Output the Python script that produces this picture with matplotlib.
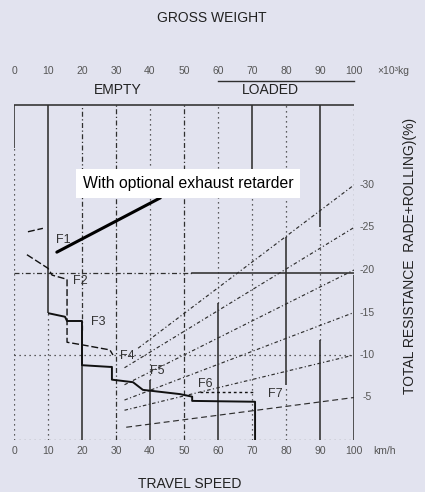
import matplotlib.pyplot as plt

plt.rcParams['font.family'] = ['Liberation Sans', 'DejaVu Sans']

# scales (speed and gross weight share the horizontal scale)
speed_ticks = [0, 10, 20, 30, 40, 50, 60, 70, 80, 90, 100]
weight_ticks = [0, 10, 20, 30, 40, 50, 60, 70, 80, 90, 100]
grade_labels = ['-30', '-25', '-20', '-15', '-10', '-5']

# total resistance lines: value at the right edge and where each line starts
grade_levels = [30, 25, 20, 15, 10, 5]
grade_start_speed = [36.5, 32.5, 32.5, 32.5, 32.5, 33.0]
grade_start_level = [10.8, 8.5, 6.5, 4.7, 3.5, 1.5]

# retarder step curve (solid) and the upper dashed curve
solid_speed = [10.3, 15.0, 15.6, 20.0, 20.0, 28.2, 28.8, 28.8, 35.0, 37.9, 48.8, 52.4, 52.4, 70.9, 70.9]
solid_grade = [14.9, 14.5, 14.0, 14.0, 8.8, 8.6, 8.6, 7.1, 6.8, 5.9, 5.4, 5.1, 4.6, 4.5, 0.0]
dash_speed = [3.8, 10.0, 11.2, 15.6, 15.6, 20.0, 28.2, 29.1]
dash_grade = [21.8, 20.2, 19.4, 18.9, 11.5, 11.2, 10.6, 10.0]
f67_speed = [54.7, 70.9]
f67_grade = [5.6, 5.6]
f1_speed = [4.1, 8.5]
f1_grade = [24.5, 24.9]

gears = ['F1', 'F2', 'F3', 'F4', 'F5', 'F6', 'F7']
gear_speed = [14.4, 19.4, 24.7, 33.2, 42.1, 56.2, 76.8]
gear_grade = [23.5, 18.7, 13.9, 9.9, 8.1, 6.6, 5.4]

top = 39.4
reading_level = 19.65

# vertical grid pieces: (x, from, to)
solid_v = [(0, 34.4, top), (10, 14.9, top), (20, 0, 12.9), (40, 0, 7.1), (60, 0, 16.1),
           (70, 28.7, top), (80, 6.5, 23.9), (90, 25.1, top), (90, 0, 11.8), (100, 0, 19.4)]
dotted_v = [(0, 0, 34.4), (10, 0, 14.9), (40, 7.1, top), (60, 16.1, top), (70, 0, 28.7),
            (80, 23.9, top), (80, 0, 6.5), (90, 11.8, 25.1), (100, 19.4, top)]
dashdot_v = [(20, 12.9, top), (30, 0, top), (50, 0, top)]

bg = '#e2e3ef'
ink = '#2f2f2f'
fig = plt.figure(figsize=(4.25, 4.92), dpi=100, facecolor=bg)
ax = fig.add_axes([14 / 425, 52 / 492, 340 / 425, 340 / 492])
ax.set_facecolor(bg)
ax.set_xlim(0, 100)
ax.set_ylim(0, 40)
for s in ax.spines.values():
    s.set_visible(False)

for x, a, b in solid_v:
    ax.plot([x, x], [a, b], color=ink, lw=1.15, solid_capstyle='butt')
for x, a, b in dotted_v:
    ax.plot([x, x], [a, b], color=ink, lw=0.9, ls=(0, (1, 3)))
for x, a, b in dashdot_v:
    ax.plot([x, x], [a, b], color=ink, lw=0.9, ls=(0, (4, 2, 1, 2)))

# frame and horizontal reading lines
ax.plot([0, 100.5], [top, top], color=ink, lw=1.15)
ax.plot([0, 52.4], [reading_level, reading_level], color=ink, lw=0.9, ls=(0, (4, 2, 1, 2)))
ax.plot([52.4, 100], [reading_level, reading_level], color=ink, lw=1.15)
ax.plot([0, 100], [10, 10], color=ink, lw=0.9, ls=(0, (1, 3)))
ax.plot([0, 100], [0, 0], color=ink, lw=0.9, ls=(0, (1, 3)))

# total resistance lines
for i, g in enumerate(grade_levels):
    style = (0, (5, 3)) if g == 5 else (0, (3, 2, 1, 2))
    ax.plot([grade_start_speed[i], 100], [grade_start_level[i], g],
            color=ink, lw=0.85, ls=style)
    ax.text(103.8, g, grade_labels[i], fontsize=7.5, color='#555',
            ha='center', va='center', clip_on=False)

# gear curves
ax.plot(solid_speed, solid_grade, color='#111', lw=1.4)
ax.plot(dash_speed, dash_grade, color='#111', lw=1.0, ls=(0, (5, 2)))
ax.plot(f67_speed, f67_grade, color='#111', lw=1.0, ls=(0, (2, 2)))
ax.plot(f1_speed, f1_grade, color='#111', lw=1.0, ls=(0, (5, 2)))
for i, name in enumerate(gears):
    ax.text(gear_speed[i], gear_grade[i], name, fontsize=9, color='#333',
            ha='center', va='center')

ax.annotate('With optional exhaust retarder', xy=(12.6, 22.1), xytext=(51.2, 30.2),
            fontsize=11.3, color='black', ha='center', va='center',
            bbox=dict(boxstyle='square,pad=0.45', fc='white', ec='none'),
            arrowprops=dict(arrowstyle='-', color='black', lw=2.2, shrinkA=0, shrinkB=0))

# speed scale
ax.set_xticks(speed_ticks)
ax.set_xticklabels([str(v) for v in speed_ticks], fontsize=7.5, color='#555')
ax.tick_params(axis='x', length=0, pad=4)
ax.set_yticks([])
ax.text(109.1, -1.3, 'km/h', fontsize=7.5, color='#555', ha='center', va='center', clip_on=False)

# gross weight scale
for w in weight_ticks:
    ax.text(w, 43.4, str(w), fontsize=7.5, color='#555', ha='center', va='center', clip_on=False)
ax.text(111.5, 43.4, '×10³kg', fontsize=7.5, color='#555', ha='center', va='center', clip_on=False)
ax.plot([60, 100], [42.2, 42.2], color=ink, lw=1.0, clip_on=False)
ax.text(30.6, 41.2, 'EMPTY', fontsize=10, color='#222', ha='center', va='center', clip_on=False)
ax.text(75.3, 41.2, 'LOADED', fontsize=10, color='#222', ha='center', va='center', clip_on=False)

ax.text(116.5, 21.6, 'TOTAL RESISTANCE  RADE+ROLLING)(%)', rotation=90, fontsize=10,
        color='#222', ha='center', va='center', clip_on=False)
fig.text(212 / 425, 1 - 18 / 492, 'GROSS WEIGHT', fontsize=10, color='#222', ha='center', va='center')
fig.text(190 / 425, 1 - 484 / 492, 'TRAVEL SPEED', fontsize=10, color='#222', ha='center', va='center')

fig.savefig('out.png', dpi=100, facecolor=bg)
